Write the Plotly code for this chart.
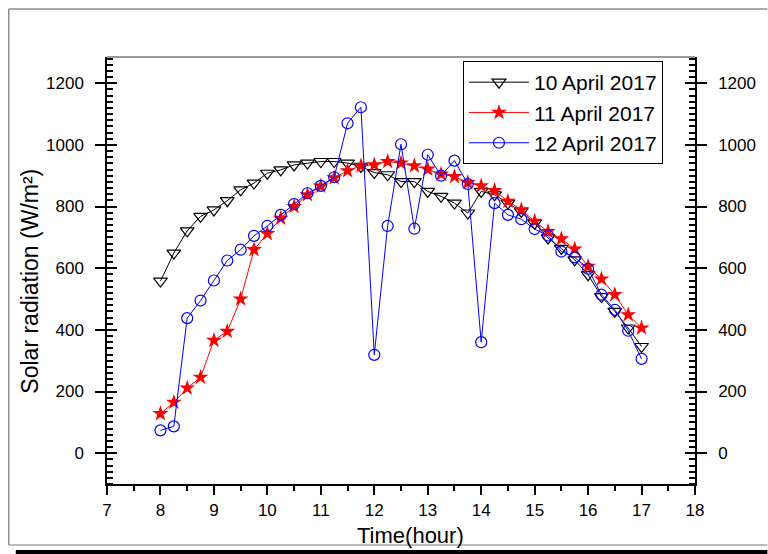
import plotly.graph_objects as go

# Time of day (hours), sampled every 15 minutes
hours = [8.0, 8.25, 8.5, 8.75, 9.0, 9.25, 9.5, 9.75, 10.0, 10.25, 10.5, 10.75,
         11.0, 11.25, 11.5, 11.75, 12.0, 12.25, 12.5, 12.75, 13.0, 13.25, 13.5,
         13.75, 14.0, 14.25, 14.5, 14.75, 15.0, 15.25, 15.5, 15.75, 16.0, 16.25,
         16.5, 16.75, 17.0]

# Solar radiation (W/m²)
apr10 = [558, 649, 721, 768, 789, 819, 854, 876, 908, 919, 935, 941,
         946, 946, 941, 930, 910, 903, 881, 881, 849, 833, 811,
         779, 849, 838, 811, 784, 746, 698, 664, 627, 579, 508,
         460, 406, 346]
apr11 = [128, 165, 211, 246, 366, 395, 500, 660, 712, 762, 800, 838,
         866, 893, 916, 932, 935, 946, 941, 932, 921, 905, 897,
         878, 867, 852, 817, 789, 752, 719, 695, 662, 606, 565,
         514, 449, 406]
apr12 = [74, 87, 438, 495, 560, 625, 660, 705, 737, 773, 808, 843,
         867, 895, 1070, 1122, 319, 737, 1002, 728, 968, 900, 949,
         873, 360, 811, 773, 759, 727, 706, 654, 635, 598, 514,
         465, 397, 306]

series_names = ["10 April 2017", "11 April 2017", "12 April 2017"]

x_range = [7, 18]
y_range = [-100, 1285]

FONT = "Arial, Liberation Sans, sans-serif"
W, H = 768, 554
L, R, T, B = 107, 68, 57, 70
PW, PH = W - L - R, H - T - B


def px_x(p):
    return (p - L) / PW


def px_y(p):
    return (H - B - p) / PH


fig = go.Figure()

fig.add_trace(go.Scatter(
    x=hours, y=apr10, name=series_names[0], mode="lines+markers",
    line=dict(color="black", width=1),
    marker=dict(symbol="triangle-down-open", size=12, color="black",
                line=dict(width=1.2, color="black")),
))
fig.add_trace(go.Scatter(
    x=hours, y=apr11, name=series_names[1], mode="lines+markers",
    line=dict(color="#ff0000", width=1),
    marker=dict(symbol="star", size=12, color="#ff0000",
                line=dict(width=0)),
))
fig.add_trace(go.Scatter(
    x=hours, y=apr12, name=series_names[2], mode="lines+markers",
    line=dict(color="#0000ff", width=1),
    marker=dict(symbol="circle-open", size=11, color="#0000ff",
                line=dict(width=1.2, color="#0000ff")),
))

tick_font = dict(family=FONT, size=17, color="black")

common_y = dict(range=y_range, showgrid=False, zeroline=False,
                tick0=0, dtick=200, linecolor="black", linewidth=1.5,
                tickcolor="black", tickwidth=1.5)

fig.update_layout(
    width=W, height=H,
    margin=dict(l=L, r=R, t=T, b=B),
    paper_bgcolor="white", plot_bgcolor="white",
    font=dict(family=FONT, color="black"),
    showlegend=True,
    legend=dict(
        x=px_x(466), y=px_y(61), xanchor="left", yanchor="top",
        bgcolor="white", bordercolor="black", borderwidth=1,
        font=dict(family=FONT, size=21, color="black"),
        itemwidth=60, tracegroupgap=0,
    ),
    xaxis=dict(
        range=x_range, showgrid=False, zeroline=False,
        tick0=7, dtick=1, ticks="outside", ticklen=9,
        tickcolor="black", tickwidth=1.5,
        linecolor="black", linewidth=1.5, showline=True,
        tickfont=tick_font, ticklabelstandoff=1,
        minor=dict(ticks="outside", ticklen=5, dtick=0.5,
                   tickcolor="black", tickwidth=1.5),
    ),
    yaxis=dict(
        **common_y, showline=True, side="left",
        ticks="outside", ticklen=10, tickfont=tick_font,
        ticklabelstandoff=8,
        minor=dict(ticks="inside", ticklen=6, dtick=20,
                   tickcolor="black", tickwidth=1.5),
    ),
    yaxis2=dict(
        **common_y, showline=True, side="right", overlaying="y",
        anchor="x", ticks="outside", ticklen=10, tickfont=tick_font,
        ticklabelstandoff=8,
        minor=dict(ticks="inside", ticklen=6, dtick=20,
                   tickcolor="black", tickwidth=1.5),
    ),
    # inner halves of the crossing major ticks
    yaxis3=dict(
        **common_y, showline=False, side="left", overlaying="y",
        anchor="x", ticks="inside", ticklen=10, showticklabels=False,
    ),
    yaxis4=dict(
        **common_y, showline=False, side="right", overlaying="y",
        anchor="x", ticks="inside", ticklen=10, showticklabels=False,
    ),
)

# invisible traces to activate the extra axes
for ax in ["y2", "y3", "y4"]:
    fig.add_trace(go.Scatter(x=[None], y=[None], yaxis=ax,
                             showlegend=False, hoverinfo="skip"))

shapes = [
    # top edge of the plot frame
    dict(type="line", xref="paper", yref="paper", x0=0, x1=1, y0=1, y1=1,
         line=dict(color="#777777", width=1.5)),
    # outer page frame
    dict(type="line", xref="paper", yref="paper",
         x0=px_x(8), x1=px_x(W + 5), y0=px_y(9), y1=px_y(9),
         line=dict(color="#555555", width=1)),
    dict(type="line", xref="paper", yref="paper",
         x0=px_x(8), x1=px_x(8), y0=px_y(9), y1=px_y(545),
         line=dict(color="#555555", width=1)),
    dict(type="line", xref="paper", yref="paper",
         x0=px_x(8), x1=px_x(W + 5), y0=px_y(545), y1=px_y(545),
         line=dict(color="#777777", width=1)),
    dict(type="rect", xref="paper", yref="paper",
         x0=px_x(15), x1=px_x(W + 5), y0=px_y(550), y1=px_y(H + 5),
         line=dict(width=0), fillcolor="black"),
]
fig.update_layout(shapes=shapes)

fig.add_annotation(
    text="Time(hour)", xref="paper", yref="paper",
    x=px_x(413), y=px_y(535), xanchor="center", yanchor="middle",
    showarrow=False, font=dict(family=FONT, size=22, color="black"),
)
fig.add_annotation(
    text="Solar radiation (W/m²)", xref="paper", yref="paper",
    x=px_x(29), y=px_y(281), xanchor="center", yanchor="middle",
    textangle=-90, showarrow=False,
    font=dict(family=FONT, size=23, color="black"),
)

fig.write_html("out.html")
